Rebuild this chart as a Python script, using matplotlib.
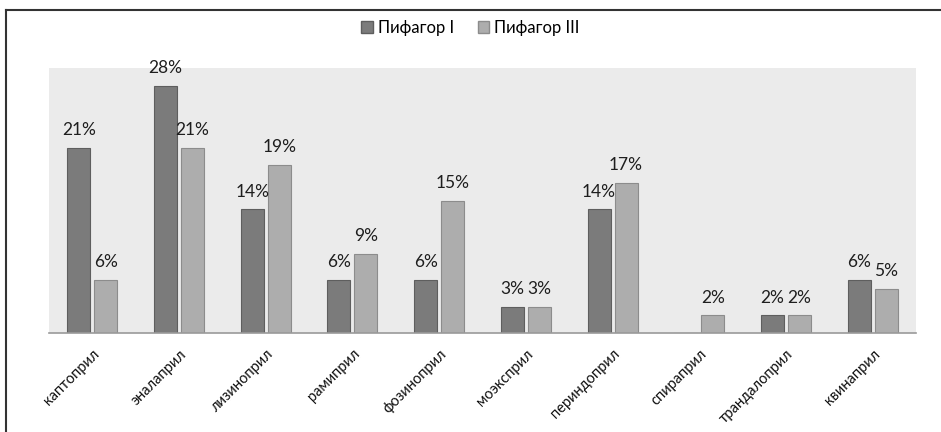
import matplotlib
matplotlib.use("Agg")
import matplotlib.pyplot as plt
from matplotlib.lines import Line2D
from matplotlib.patches import Patch
import numpy as np

plt.rcParams['font.family'] = ['Lato', 'DejaVu Sans']

drugs = ["каптоприл", "эналаприл", "лизиноприл", "рамиприл", "фозиноприл",
         "моэксприл", "периндоприл", "спираприл", "трандалоприл", "квинаприл"]
pifagor_1 = [21, 28, 14, 6, 6, 3, 14, 0, 2, 6]
pifagor_3 = [6, 21, 19, 9, 15, 3, 17, 2, 2, 5]
series_names = ["Пифагор I", "Пифагор III"]

dark = "#7b7b7b"
dark_edge = "#5e5e5e"
light = "#adadad"
light_edge = "#8c8c8c"

fig = plt.figure(figsize=(9.41, 4.32), dpi=100)
ax = fig.add_axes([49 / 941, 1 - 333 / 432, (916 - 49) / 941, (333 - 68) / 432])
ax.set_facecolor("#ebebeb")

x = np.arange(len(drugs))
w = 0.265
off = 0.156

bars1 = ax.bar(x - off, pifagor_1, w, color=dark, edgecolor=dark_edge, linewidth=0.8)
bars3 = ax.bar(x + off, pifagor_3, w, color=light, edgecolor=light_edge, linewidth=0.8)

for bars, vals in ((bars1, pifagor_1), (bars3, pifagor_3)):
    for b, v in zip(bars, vals):
        if v == 0:
            continue
        ax.annotate(f"{v}%", (b.get_x() + b.get_width() / 2, v),
                    xytext=(0, 7), textcoords="offset points",
                    ha="center", va="bottom", fontsize=12.5, color="#1e1e1e",
                    annotation_clip=False)

ax.set_xlim(-0.5, len(drugs) - 0.5)
ax.set_ylim(0, 30)
ax.set_yticks([])
ax.set_xticks(x)
ax.set_xticklabels(drugs, rotation=45, ha="right", rotation_mode="anchor",
                   fontsize=10.5, color="#111111")
ax.tick_params(axis="x", length=0, pad=10)
for s in ("top", "right", "left"):
    ax.spines[s].set_visible(False)
ax.spines["bottom"].set_color("#9a9a9a")
ax.spines["bottom"].set_linewidth(1.2)

handles = [Patch(facecolor=dark, edgecolor=dark_edge, label=series_names[0]),
           Patch(facecolor=light, edgecolor=light_edge, label=series_names[1])]
fig.legend(handles=handles, loc="center", bbox_to_anchor=(0.5, 1 - 28 / 432),
           ncol=2, frameon=False, fontsize=12, handlelength=0.7,
           handleheight=0.7, handletextpad=0.3, columnspacing=1.4)

# frame lines along the top and left edges
fig.add_artist(Line2D([6 / 941, 1.0], [1 - 10 / 432, 1 - 10 / 432],
                      transform=fig.transFigure, color="#333333", linewidth=1.5))
fig.add_artist(Line2D([6 / 941, 6 / 941], [0.0, 1 - 10 / 432],
                      transform=fig.transFigure, color="#333333", linewidth=1.5))

fig.savefig("out.png", dpi=100)
